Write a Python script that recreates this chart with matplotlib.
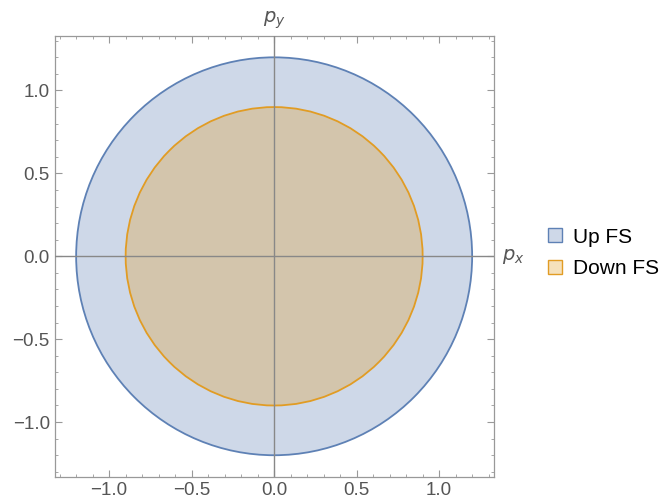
import numpy as np
import matplotlib
matplotlib.use("Agg")
import matplotlib.pyplot as plt
from matplotlib.patches import Circle, Patch
from matplotlib.ticker import MultipleLocator, FuncFormatter

# Fermi surface radii
labels = ["Up FS", "Down FS"]
radii = [1.2, 0.9]
edge_colors = ["#5E81B5", "#E19C24"]
lim = 1.33

plt.rcParams['font.family'] = ['Liberation Sans', 'DejaVu Sans']

fig = plt.figure(figsize=(6.59, 5.04), dpi=100)
ax = fig.add_axes([0.083, 0.054, 0.666, 0.875])

handles = []
for lab, r, c in zip(labels, radii, edge_colors):
	ax.add_patch(Circle((0, 0), r, facecolor=c, alpha=0.3, edgecolor='none', zorder=2))
	ax.add_patch(Circle((0, 0), r, facecolor='none', edgecolor=c, lw=1.3, zorder=3))
	handles.append(Patch(facecolor=matplotlib.colors.to_rgba(c, 0.3), edgecolor=c, label=lab))

ax.axhline(0, color='#888888', lw=1.0, zorder=4)
ax.axvline(0, color='#888888', lw=1.0, zorder=4)

def fmt(v, pos):
	s = '%.1f' % v
	if s == '-0.0':
		s = '0.0'
	return s.replace('-', '\u2212')

ax.set_xlim(-lim, lim)
ax.set_ylim(-lim, lim)
ax.xaxis.set_major_locator(MultipleLocator(0.5))
ax.yaxis.set_major_locator(MultipleLocator(0.5))
ax.xaxis.set_minor_locator(MultipleLocator(0.1))
ax.yaxis.set_minor_locator(MultipleLocator(0.1))
ax.xaxis.set_major_formatter(FuncFormatter(fmt))
ax.yaxis.set_major_formatter(FuncFormatter(fmt))
ax.tick_params(which='both', direction='in', top=True, right=True, color='#999999',
	labelcolor='#555555', labelsize=13.5)
ax.tick_params(which='major', length=5, width=0.8)
ax.tick_params(which='minor', length=2.5, width=0.6)
for s in ax.spines.values():
	s.set_color('#999999')
	s.set_linewidth(0.9)

ax.text(0, 1.36, r'$p_y$', color='#555555', fontsize=14, ha='center', va='bottom',
	transform=ax.transData, clip_on=False)
ax.text(1.38, 0, r'$p_x$', color='#555555', fontsize=14, ha='left', va='center',
	transform=ax.transData, clip_on=False)

fig.legend(handles=handles, loc='center left', bbox_to_anchor=(0.831, 0.498), frameon=False,
	fontsize=15, handlelength=0.67, handleheight=0.67, handletextpad=0.55,
	labelspacing=0.62, borderpad=0, borderaxespad=0)

plt.savefig("out.png", dpi=100)
plt.close()
